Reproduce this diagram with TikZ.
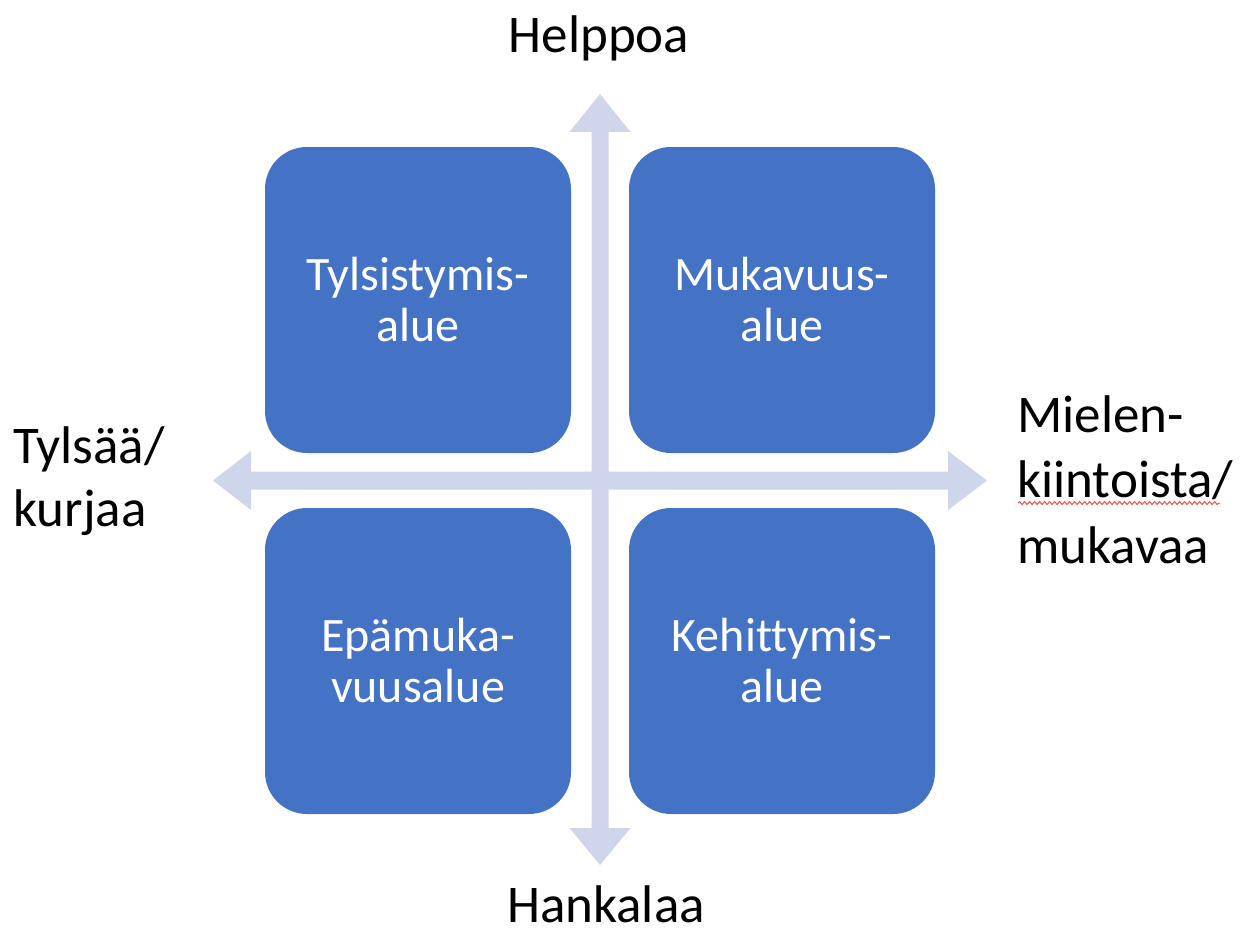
\documentclass[tikz,border=0pt]{standalone}
\usepackage{fontspec}
\setmainfont{Carlito}[Ligatures=CommonOff]
\usetikzlibrary{decorations.pathmorphing}
\definecolor{boxblue}{HTML}{4472C4}
\definecolor{axiscol}{HTML}{CFD5EA}
\definecolor{spellred}{HTML}{F05050}
\begin{document}
\begin{tikzpicture}[x=1pt,y=-1pt,
  zone/.style={fill=boxblue,draw=none,rounded corners=42pt,minimum width=306pt,minimum height=306pt,
    inner sep=0pt,text=white,align=center,font=\fontsize{48}{51}\selectfont},
  axislabel/.style={inner sep=0pt,font=\fontsize{53}{64}\selectfont,text=black}]
\useasboundingbox (0,0) rectangle (1252,931);
% axes
\fill[axiscol] (591.5,828) -- (569.5,828) -- (600,865) -- (630.5,828) -- (608.5,828)
  -- (608.5,132) -- (630.5,132) -- (600,94) -- (569.5,132) -- (591.5,132) -- cycle;
\fill[axiscol] (251,471.5) -- (251,451) -- (213,480.5) -- (251,510) -- (251,489.5)
  -- (948,489.5) -- (948,510) -- (987,480.5) -- (948,451) -- (948,471.5) -- cycle;
% zones
\node[zone] (tl) at (418,300) {Tylsistymis-\\alue};
\node[zone] (tr) at (782,300) {Mukavuus-\\alue};
\node[zone] (bl) at (418,661) {Epämuka-\\vuusalue};
\node[zone] (br) at (782,661) {Kehittymis-\\alue};
% labels
\node[axislabel,anchor=base] (up) at (599,53) {Helppoa};
\node[axislabel,anchor=base,text depth=0pt] (down) at (606,922) {Hankalaa};
\node[axislabel,anchor=base west] (l1) at (13,463) {Tylsää/};
\node[axislabel,anchor=base west] (l2) at (13,526) {kurjaa};
\node[axislabel,anchor=base west] (r1) at (1017,432) {Mielen-};
\node[axislabel,anchor=base west] (r2) at (1017,497) {kiintoista/};
\node[axislabel,anchor=base west] (r3) at (1017,563) {mukavaa};
\draw[spellred,line width=1pt,decorate,decoration={snake,amplitude=1.5pt,segment length=5pt}]
  (1018,503) -- (1220,503);
\end{tikzpicture}
\end{document}
